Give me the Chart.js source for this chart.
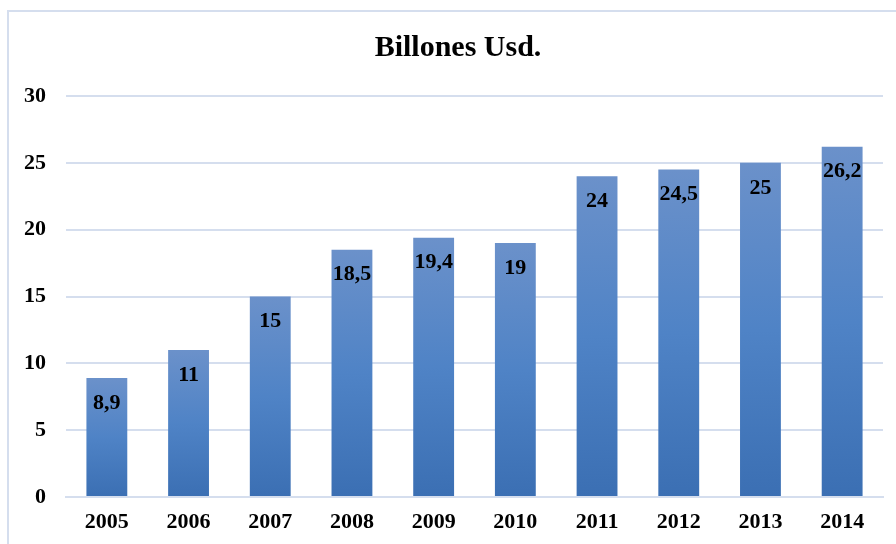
<!DOCTYPE html>
<html><head><meta charset="utf-8">
<script src="https://cdn.jsdelivr.net/npm/chart.js@4"></script>
<style>html,body{margin:0;padding:0;background:#fff}#wrap{width:896px;height:544px;position:relative}</style>
</head><body><div id="wrap"><canvas id="c" width="896" height="544"></canvas></div>
<script>
const categories = ['2005','2006','2007','2008','2009','2010','2011','2012','2013','2014'];
const values = [8.9, 11, 15, 18.5, 19.4, 19, 24, 24.5, 25, 26.2];
const valueLabels = ['8,9','11','15','18,5','19,4','19','24','24,5','25','26,2'];
const titleText = 'Billones Usd.';

const serif = '"Liberation Serif", "Times New Roman", serif';

const framePlugin = {
  id: 'frame',
  beforeDraw(chart) {
    const c = chart.ctx;
    c.save();
    c.strokeStyle = '#d5deee';
    c.lineWidth = 2;
    c.strokeRect(8, 11, 920, 560);
    c.restore();
  }
};

const labelPlugin = {
  id: 'valLabels',
  afterDatasetsDraw(chart) {
    const c = chart.ctx;
    const meta = chart.getDatasetMeta(0);
    c.save();
    c.font = 'bold 22px ' + serif;
    c.fillStyle = '#000';
    c.textAlign = 'center';
    c.textBaseline = 'middle';
    meta.data.forEach((bar, i) => {
      c.fillText(valueLabels[i], bar.x, bar.y + 25);
    });
    c.restore();
  }
};

new Chart(document.getElementById('c'), {
  type: 'bar',
  data: {
    labels: categories,
    datasets: [{
      data: values,
      backgroundColor(ctx) {
        const chart = ctx.chart;
        const ys = chart.scales.y;
        if (!ys || !chart.chartArea) return '#4f81c4';
        const top = ys.getPixelForValue(values[ctx.dataIndex]);
        const bottom = ys.getPixelForValue(0);
        const g = chart.ctx.createLinearGradient(0, top, 0, bottom);
        g.addColorStop(0, '#6b91ca');
        g.addColorStop(0.5, '#4f83c6');
        g.addColorStop(1, '#3b6fb3');
        return g;
      },
      borderWidth: 0,
      categoryPercentage: 1,
      barPercentage: 0.5
    }]
  },
  options: {
    responsive: false,
    animation: false,
    layout: { padding: { left: 20, right: 0, top: 0, bottom: 0 } },
    plugins: {
      legend: { display: false },
      tooltip: { enabled: false },
      title: {
        display: true,
        text: titleText,
        color: '#000',
        font: { family: serif, size: 30, weight: 'bold' },
        padding: { top: 30, bottom: 30 }
      }
    },
    scales: {
      x: {
        afterFit(s) { s.height = 47; },
        grid: { display: false, drawTicks: false },
        border: { display: true, color: '#d5deee', width: 2 },
        ticks: { color: '#000', font: { family: serif, size: 22, weight: 'bold' }, padding: 12 }
      },
      y: {
        min: 0, max: 30,
        afterFit(s) { s.width = 46; },
        grid: { color: '#d5deee', lineWidth: 2, drawTicks: false },
        border: { display: false },
        ticks: { stepSize: 5, color: '#000', font: { family: serif, size: 22, weight: 'bold' }, padding: 20 }
      },
      yRightSpacer: {
        type: 'linear',
        position: 'right',
        min: 0, max: 30,
        afterFit(s) { s.width = 13; },
        grid: { display: false, drawTicks: false },
        border: { display: false },
        ticks: { display: false }
      }
    }
  },
  plugins: [framePlugin, labelPlugin]
});
</script></body></html>
